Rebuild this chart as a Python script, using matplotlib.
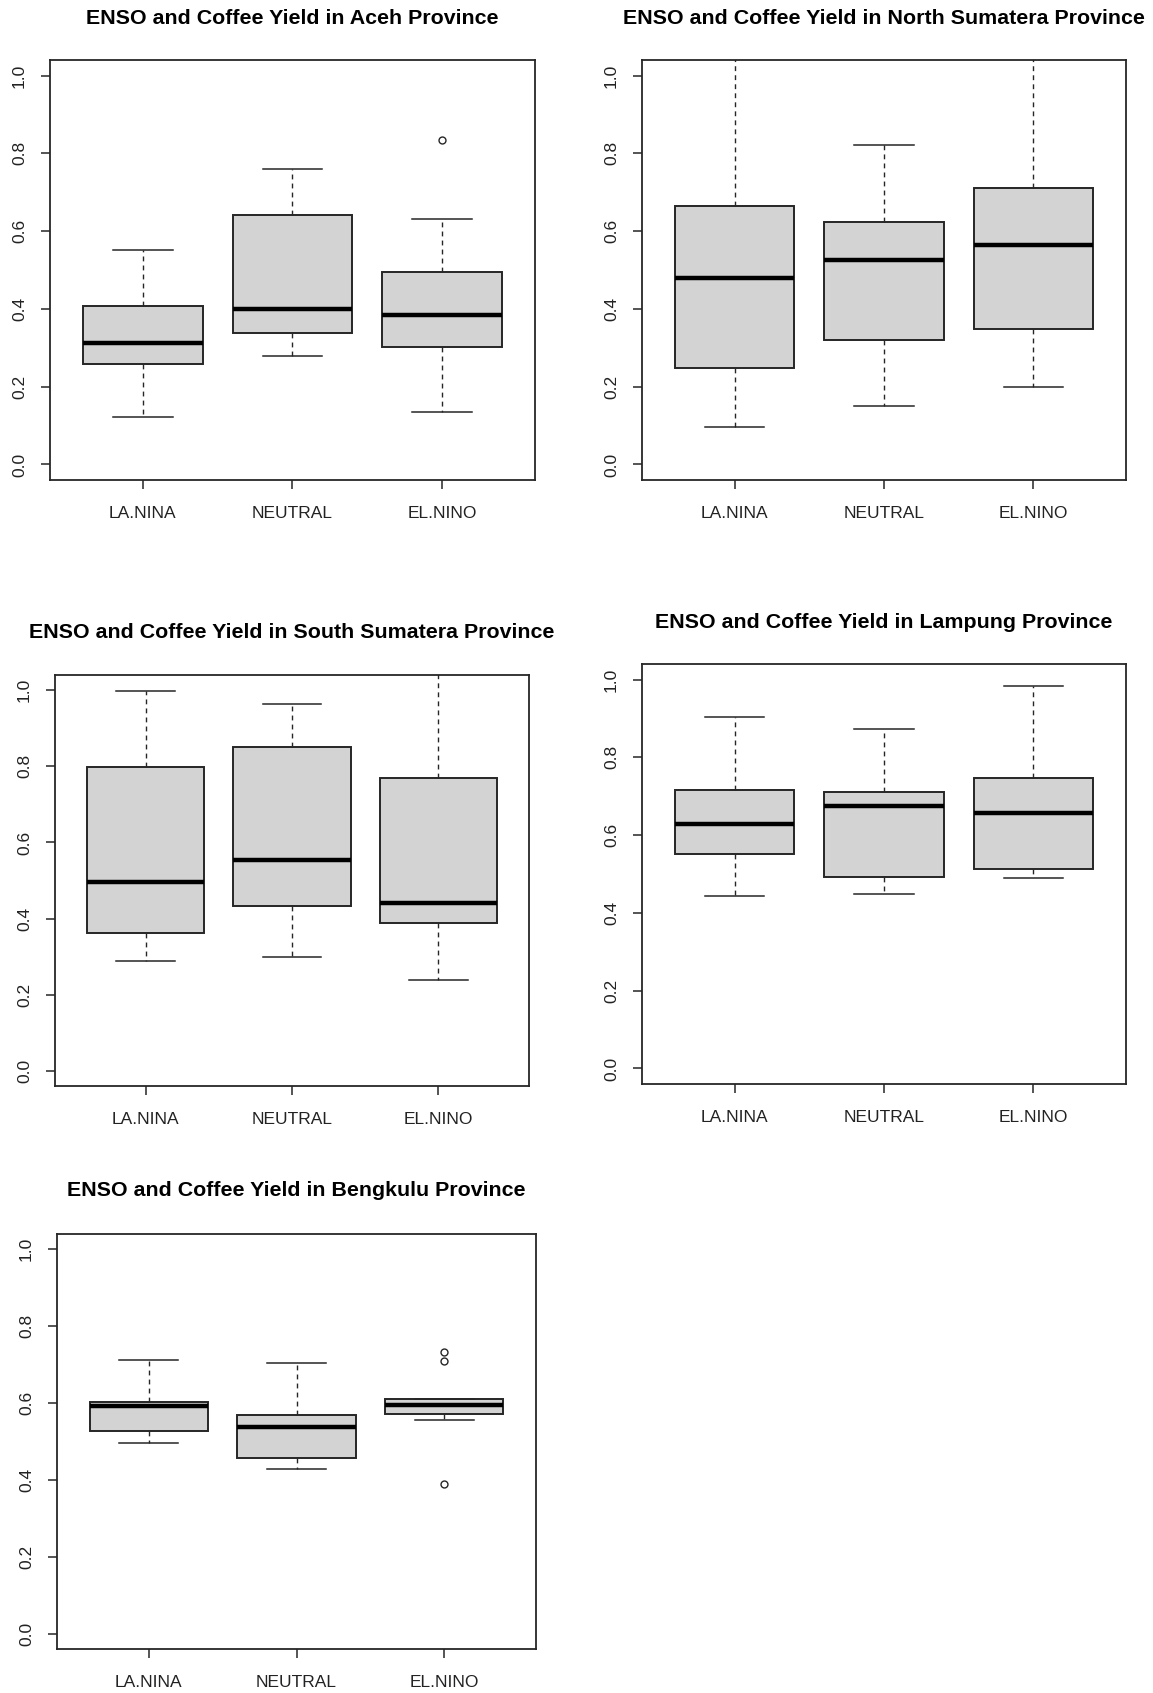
import matplotlib
matplotlib.use("Agg")
import matplotlib.pyplot as plt

W, H, DPI = 1153, 1693, 100
plt.rcParams["font.family"] = ["Liberation Sans", "DejaVu Sans"]

categories = ["LA.NINA", "NEUTRAL", "EL.NINO"]
y_ticks = [0.0, 0.2, 0.4, 0.6, 0.8, 1.0]
y_tick_labels = ["0.0", "0.2", "0.4", "0.6", "0.8", "1.0"]

titles = [
    "ENSO and Coffee Yield in Aceh Province",
    "ENSO and Coffee Yield in North Sumatera Province",
    "ENSO and Coffee Yield in South Sumatera Province",
    "ENSO and Coffee Yield in Lampung Province",
    "ENSO and Coffee Yield in Bengkulu Province",
]

# Aceh
aceh_whislo = [0.123, 0.279, 0.134]
aceh_q1 = [0.257, 0.339, 0.303]
aceh_med = [0.313, 0.399, 0.383]
aceh_q3 = [0.408, 0.641, 0.494]
aceh_whishi = [0.552, 0.760, 0.632]
aceh_fliers = [[], [], [0.833]]

# North Sumatera
nsum_whislo = [0.097, 0.150, 0.199]
nsum_q1 = [0.249, 0.319, 0.349]
nsum_med = [0.479, 0.525, 0.565]
nsum_q3 = [0.664, 0.624, 0.710]
nsum_whishi = [1.12, 0.821, 1.10]
nsum_fliers = [[], [], []]

# South Sumatera
ssum_whislo = [0.289, 0.299, 0.238]
ssum_q1 = [0.361, 0.433, 0.388]
ssum_med = [0.497, 0.555, 0.440]
ssum_q3 = [0.799, 0.850, 0.769]
ssum_whishi = [0.997, 0.964, 1.09]
ssum_fliers = [[], [], []]

# Lampung
lamp_whislo = [0.443, 0.449, 0.489]
lamp_q1 = [0.552, 0.492, 0.512]
lamp_med = [0.628, 0.675, 0.658]
lamp_q3 = [0.717, 0.710, 0.747]
lamp_whishi = [0.903, 0.874, 0.983]
lamp_fliers = [[], [], []]

# Bengkulu
beng_whislo = [0.495, 0.429, 0.557]
beng_q1 = [0.527, 0.456, 0.572]
beng_med = [0.593, 0.539, 0.595]
beng_q3 = [0.604, 0.568, 0.611]
beng_whishi = [0.712, 0.705, 0.611]
beng_fliers = [[], [], [0.733, 0.710, 0.389]]

data = [
    (aceh_whislo, aceh_q1, aceh_med, aceh_q3, aceh_whishi, aceh_fliers),
    (nsum_whislo, nsum_q1, nsum_med, nsum_q3, nsum_whishi, nsum_fliers),
    (ssum_whislo, ssum_q1, ssum_med, ssum_q3, ssum_whishi, ssum_fliers),
    (lamp_whislo, lamp_q1, lamp_med, lamp_q3, lamp_whishi, lamp_fliers),
    (beng_whislo, beng_q1, beng_med, beng_q3, beng_whishi, beng_fliers),
]

# axes boxes in pixels: left, right, top, bottom ; title center y
boxes = [
    (50, 535, 60, 480, 18),
    (642, 1126, 60, 480, 18),
    (55, 529, 675, 1086, 633),
    (642, 1126, 664, 1084, 623),
    (57, 536, 1234, 1649, 1191),
]

fig = plt.figure(figsize=(W / DPI, H / DPI), dpi=DPI)
fig.patch.set_facecolor("white")

edge = "#262626"
for (lo, q1, med, q3, hi, fl), (l, r, t, b, ty), title in zip(data, boxes, titles):
    ax = fig.add_axes([l / W, 1 - b / H, (r - l) / W, (b - t) / H])
    stats = []
    for i in range(3):
        stats.append(dict(whislo=lo[i], q1=q1[i], med=med[i], q3=q3[i],
                          whishi=hi[i], fliers=fl[i]))
    ax.bxp(stats, positions=[1, 2, 3], widths=0.8, capwidths=0.4,
           patch_artist=True, showfliers=True,
           boxprops=dict(facecolor="#D3D3D3", edgecolor=edge, linewidth=1.4),
           medianprops=dict(color="black", linewidth=3.2, solid_capstyle="butt"),
           whiskerprops=dict(color=edge, linewidth=1.0, linestyle=(0, (3.5, 3))),
           capprops=dict(color=edge, linewidth=1.1),
           flierprops=dict(marker="o", markerfacecolor="none",
                           markeredgecolor=edge, markersize=5, markeredgewidth=1.0))
    ax.set_xlim(0.38, 3.62)
    ax.set_ylim(-0.04, 1.04)
    ax.set_xticks([1, 2, 3])
    ax.set_xticklabels(categories, fontsize=12.5, color="#222222")
    ax.set_yticks(y_ticks)
    ax.set_yticklabels(y_tick_labels, fontsize=12.5, color="#222222",
                       rotation=90, va="center")
    ax.tick_params(axis="x", length=6.5, width=1.1, color=edge, pad=12.5)
    ax.tick_params(axis="y", length=6.5, width=1.1, color=edge, pad=10)
    for s in ax.spines.values():
        s.set_color(edge)
        s.set_linewidth(1.3)
    fig.text((l + r) / 2 / W, 1 - ty / H, title, ha="center", va="center",
             fontsize=15.4, fontweight="bold", color="black")

fig.savefig("out.png", dpi=DPI, facecolor="white")
